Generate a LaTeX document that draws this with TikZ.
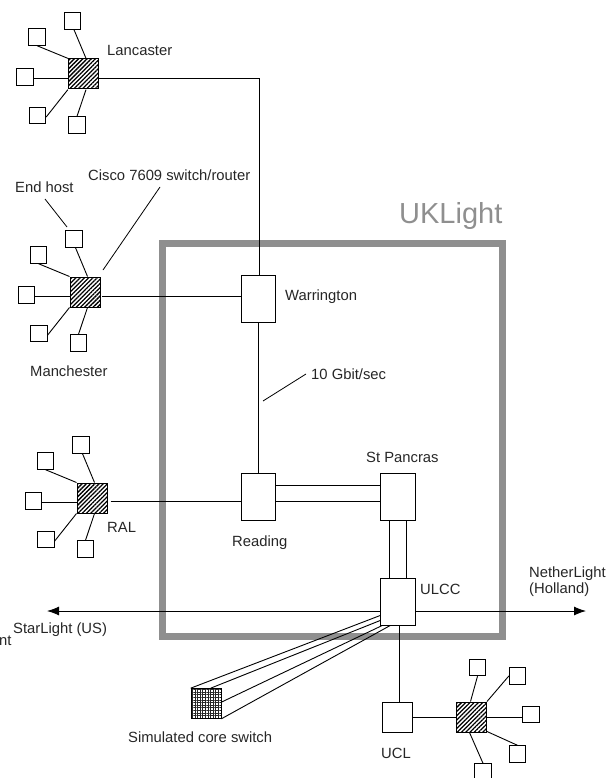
\documentclass[tikz,border=0pt]{standalone}
\usepackage{fontspec}
\setmainfont{Liberation Sans}
\usetikzlibrary{arrows.meta,patterns.meta}
\definecolor{ukgray}{gray}{0.56}
\tikzset{
  link/.style={draw=black,line width=0.9pt},
  hostbox/.style={draw=black,fill=white,line width=0.9pt,minimum size=16.5pt,inner sep=0pt},
  routerbox/.style={draw=black,fill=white,line width=0.9pt,minimum width=34.5pt,minimum height=47pt,inner sep=0pt},
  ciscobox/.style={draw=black,line width=1pt,minimum size=30pt,inner sep=0pt,
     pattern={Lines[angle=45,distance=3pt,line width=1.3pt]}},
  corebox/.style={draw=black,line width=1pt,minimum size=30pt,inner sep=0pt,
     pattern={Hatch[angle=0,distance=2.6pt,line width=0.65pt]},pattern color=black!85},
  lbl/.style={anchor=base west,inner sep=0pt,font=\fontsize{14.8}{16}\selectfont,text=black!85},
  bigarrow/.style={link,-{Latex[length=12pt,width=9pt]}}
}
\newcommand{\sitecluster}[3]{%
  \begin{scope}[shift={(#2,#3)}]
    \node[ciscobox] (#1s) at (0,0) {};
    \node[hostbox] (#1a) at (-11,-53) {};
    \node[hostbox] (#1b) at (-46.5,-37) {};
    \node[hostbox] (#1c) at (-58.5,3) {};
    \node[hostbox] (#1d) at (-46,41.5) {};
    \node[hostbox] (#1e) at (-6.5,51) {};
  \end{scope}
  \draw[link] ([xshift=1.5pt]#1a.south) -- ([xshift=2.5pt]#1s.north);
  \draw[link] (#1b.south) -- (#1s.north west);
  \draw[link] ([yshift=-1pt]#1c.east) -- ([yshift=-1pt]#1c.east -| #1s.west);
  \draw[link] ([yshift=-1.5pt]#1d.east) -- (#1s.south west);
  \draw[link] (#1e.north) -- ([xshift=2.5pt]#1s.south);
}
\begin{document}
\begin{tikzpicture}[x=1pt,y=-1pt]
\clip (0,0) rectangle (607,778);
\useasboundingbox (0,0) rectangle (607,778);
\node[draw=ukgray,line width=7pt,minimum width=340pt,minimum height=393pt,inner sep=0pt] (uk) at (332.5,440) {};
\node[anchor=base west,inner sep=0pt,text=ukgray,font=\fontsize{29}{32}\selectfont] (uklabel) at (399,223) {UKLight};

\sitecluster{la}{83.5}{74}
\sitecluster{ma}{85}{292}
\sitecluster{ra}{92}{498}

\node[routerbox] (war) at (258.5,298.5) {};
\node[routerbox] (rea) at (258.5,496.5) {};
\node[routerbox] (pan) at (398,496.5) {};
\node[routerbox] (ulcc) at (398,601.5) {};
\node[hostbox,minimum size=30pt] (ucl) at (397,717) {};
\node[corebox] (core) at (206,703.5) {};

\node[ciscobox] (us) at (471.5,717) {};
\node[hostbox] (ua) at (477.5,667.5) {};
\node[hostbox] (ub) at (517.5,676) {};
\node[hostbox] (uc) at (531,714.5) {};
\node[hostbox] (ud) at (517.5,754) {};
\node[hostbox] (ue) at (483,772) {};
\draw[link] (ua.south) -- ([xshift=-1pt]us.north);
\draw[link] (ub.west) -- (us.north east);
\draw[link] (uc.west |- us.east) -- (us.east);
\draw[link] ([yshift=1pt]us.south east) -- (ud.north);
\draw[link] ([xshift=-2pt]us.south) -- (ue.north);

% trunk links
\coordinate (bendla) at (259,78);
\draw[link] ([yshift=-4pt]las.east) -- (bendla) -- (bendla |- war.north);
\draw[link] ([yshift=-4pt,xshift=1.5pt]mas.east) -- ([yshift=-4pt]mas.east -| war.west);
\draw[link] ([yshift=-3.5pt,xshift=3pt]ras.east) -- ([yshift=-3.5pt]ras.east -| rea.west);
\draw[link] (war.south) -- (rea.north);
\draw[link] ([yshift=11.5pt]rea.east) -- ([yshift=11.5pt]pan.west);
\draw[link] ([yshift=-5pt]rea.east) -- ([yshift=-5pt]pan.west);
\draw[link] ([xshift=-8.5pt]pan.south) -- ([xshift=-8.5pt]ulcc.north);
\draw[link] ([xshift=8.5pt]pan.south) -- ([xshift=8.5pt]ulcc.north);
\draw[link] ([xshift=1pt]ulcc.south) -- ([xshift=2pt]ucl.north);
\draw[link] (ucl.east) -- (us.west);

% external links
\coordinate (starlight) at (47,611);
\coordinate (netherlight) at (586,611);
\draw[bigarrow] ([yshift=-9.5pt]ulcc.west) -- (starlight);
\draw[bigarrow] ([yshift=-9.5pt]ulcc.east) -- (netherlight);

% simulated core switch fan
\draw[link] (core.north west) -- ([yshift=10pt]ulcc.south west);
\draw[link] ([xshift=20pt]core.north west) -- ([yshift=5pt]ulcc.south west);
\draw[link] ([yshift=-14pt]core.north east) -- ([xshift=2pt]ulcc.south west);
\draw[link] (core.south east) -- ([xshift=10pt]ulcc.south west);

% pointers
\coordinate (ptencisco) at (160,187);
\coordinate (ptcisco) at (103,270);
\coordinate (ptenhost) at (45,199);
\coordinate (pthost) at (67,227);
\coordinate (ptengbit) at (306,374);
\coordinate (ptgbit) at (263,401);
\draw[link,line width=0.8pt] (ptencisco) -- (ptcisco);
\draw[link,line width=0.8pt] (ptenhost) -- (pthost);
\draw[link,line width=0.8pt] (ptengbit) -- (ptgbit);

% labels
\node[lbl] (t1) at (107,56) {Lancaster};
\node[lbl] (t2) at (88,180) {Cisco 7609 switch/router};
\node[lbl] (t3) at (15,192) {End host};
\node[lbl] (t4) at (30,376) {Manchester};
\node[lbl] (t5) at (285,300) {Warrington};
\node[lbl] (t6) at (311,379) {10 Gbit/sec};
\node[lbl] (t7) at (366,462) {St Pancras};
\node[lbl] (t8) at (232,546) {Reading};
\node[lbl] (t9) at (107,532) {RAL};
\node[lbl] (t10) at (420,594) {ULCC};
\node[lbl] (t11) at (529,577) {NetherLight};
\node[lbl] (t12) at (529,593) {(Holland)};
\node[lbl] (t13) at (13,633) {StarLight (US)};
\node[lbl] (t14) at (-1,645) {nt};
\node[lbl] (t15) at (128,742) {Simulated core switch};
\node[lbl] (t16) at (381,758) {UCL};
\end{tikzpicture}
\end{document}
